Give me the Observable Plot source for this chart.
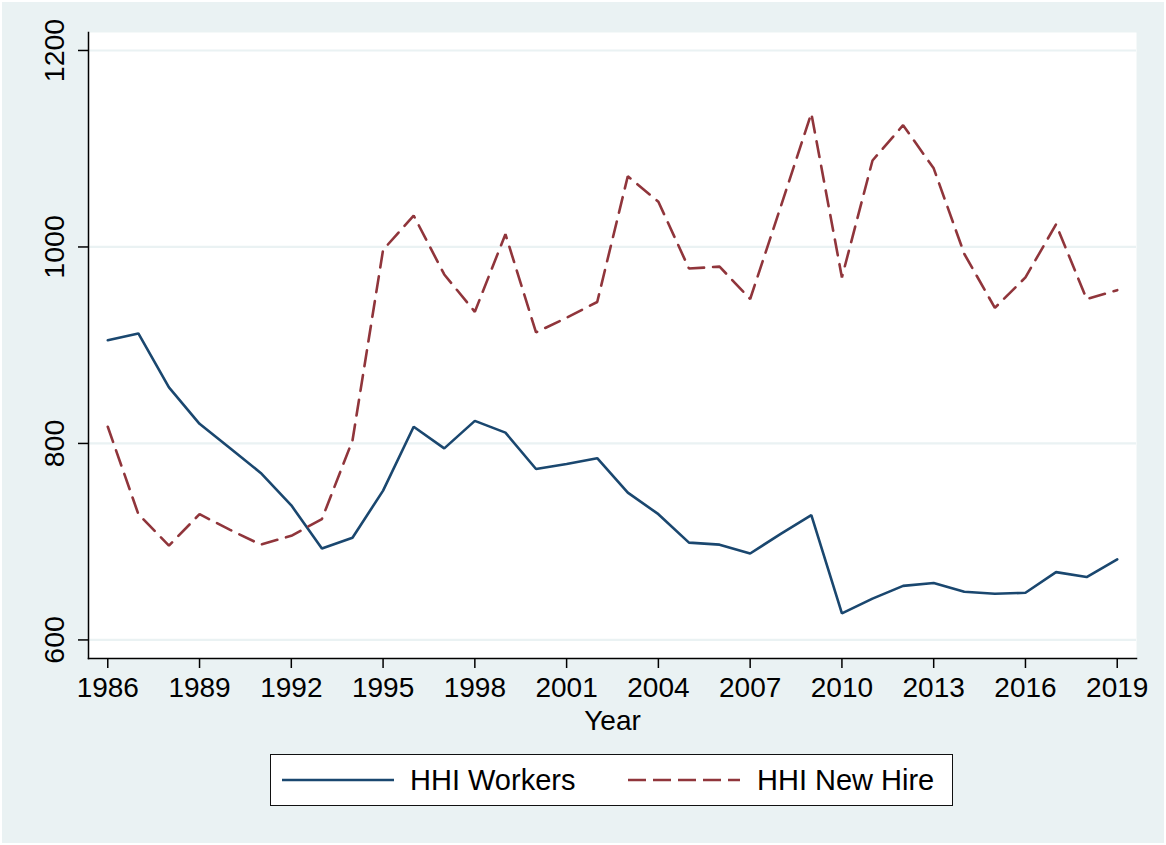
<!DOCTYPE html>
<html>
<head>
<meta charset="utf-8">
<script src="https://cdn.jsdelivr.net/npm/d3@7"></script>
<script src="https://cdn.jsdelivr.net/npm/@observablehq/plot@0.6"></script>
<style>
  html, body { margin: 0; padding: 0; background: #ffffff; }
  #page { position: absolute; left: 2px; top: 2px; width: 1162px; height: 841px; background: #eaf2f3; }
  #chart { position: absolute; left: 0; top: 0; }
  #legend { position: absolute; left: 270px; top: 754px; width: 681px; height: 50px; background: #ffffff;
            border: 1.5px solid #111; font-family: "Liberation Sans", Arial, sans-serif; font-size: 29px; color: #000; }
  #legend .item { position: absolute; top: 0; height: 50px; display: flex; align-items: center; }
  #legend svg { display: block; }
</style>
</head>
<body>
<div id="page"></div>
<div id="chart"></div>
<div id="legend"></div>
<script>
const years = [1986, 1987, 1988, 1989, 1990, 1991, 1992, 1993, 1994, 1995, 1996, 1997, 1998, 1999, 2000, 2001, 2002,
               2003, 2004, 2005, 2006, 2007, 2008, 2009, 2010, 2011, 2012, 2013, 2014, 2015, 2016, 2017, 2018, 2019];
const hhiWorkers = [905, 912, 857, 820, 795, 770, 737, 693, 704, 752, 817, 795, 823, 811, 774, 779, 785,
                    750, 728, 699, 697, 688, 708, 727, 627, 642, 655, 658, 649, 647, 648, 669, 664, 682];
const hhiNewHire = [817, 728, 696, 728, 712, 697, 706, 723, 803, 997, 1032, 972, 934, 1013, 913, 928, 944,
                    1072, 1046, 978, 980, 947, 1041, 1136, 969, 1088, 1124, 1080, 993, 938, 969, 1023, 947, 956];
const seriesNames = ["HHI Workers", "HHI New Hire"];
const xTicks = [1986, 1989, 1992, 1995, 1998, 2001, 2004, 2007, 2010, 2013, 2016, 2019];
const yTicks = [600, 800, 1000, 1200];
const xLabel = "Year";

const colors = {"HHI Workers": "#1a476f", "HHI New Hire": "#90353b"};
const dashes = {"HHI Workers": null, "HHI New Hire": "16,9"};

const workersData = years.map((y, i) => ({year: y, value: hhiWorkers[i]}));
const newHireData = years.map((y, i) => ({year: y, value: hhiNewHire[i]}));

const font = '"Liberation Sans", Arial, sans-serif';

const chart = Plot.plot({
  width: 1166,
  height: 740,
  marginLeft: 88,
  marginRight: 30,
  marginTop: 32,
  marginBottom: 82,
  style: {background: "transparent", fontFamily: font, fontSize: "28px", color: "#000"},
  x: {domain: [1985.37, 2019.63]},
  y: {domain: [581.1, 1218.3]},
  marks: [
    Plot.frame({fill: "white", stroke: null}),
    Plot.gridY(yTicks, {stroke: "#eaf2f3", strokeOpacity: 1, strokeWidth: 2.2}),
    Plot.frame({anchor: "left", stroke: "#000", strokeWidth: 1.5}),
    Plot.frame({anchor: "bottom", stroke: "#000", strokeWidth: 1.5}),
    Plot.axisY({ticks: yTicks, tickSize: 10, tickRotate: -90, tickPadding: 15, fontSize: 28.5,
                label: null, stroke: "#000", strokeWidth: 1.5, tickFormat: d => String(d)}),
    Plot.axisX({ticks: xTicks, tickSize: 10, tickPadding: 9, fontSize: 28, tickFormat: d => String(d),
                label: xLabel, labelAnchor: "center", labelArrow: "none", labelOffset: 71,
                stroke: "#000", strokeWidth: 1.5}),
    Plot.lineY(workersData, {x: "year", y: "value", stroke: colors["HHI Workers"], strokeWidth: 2.6,
                             strokeLinejoin: "miter"}),
    Plot.lineY(newHireData, {x: "year", y: "value", stroke: colors["HHI New Hire"], strokeWidth: 2.6,
                             strokeDasharray: dashes["HHI New Hire"], strokeLinejoin: "miter"})
  ]
});
document.getElementById("chart").appendChild(chart);

// Legend
const legend = document.getElementById("legend");
const positions = [{line: 11, text: 139}, {line: 357, text: 486}];
seriesNames.forEach((name, i) => {
  const sw = document.createElement("div");
  sw.className = "item";
  sw.style.left = positions[i].line + "px";
  const dash = dashes[name] ? `stroke-dasharray="18,7"` : "";
  sw.innerHTML = `<svg width="112" height="10"><line x1="0" y1="5" x2="112" y2="5" stroke="${colors[name]}" stroke-width="2.6" ${dash}/></svg>`;
  legend.appendChild(sw);
  const tx = document.createElement("div");
  tx.className = "item";
  tx.style.left = positions[i].text + "px";
  tx.textContent = name;
  legend.appendChild(tx);
});
</script>
</body>
</html>
